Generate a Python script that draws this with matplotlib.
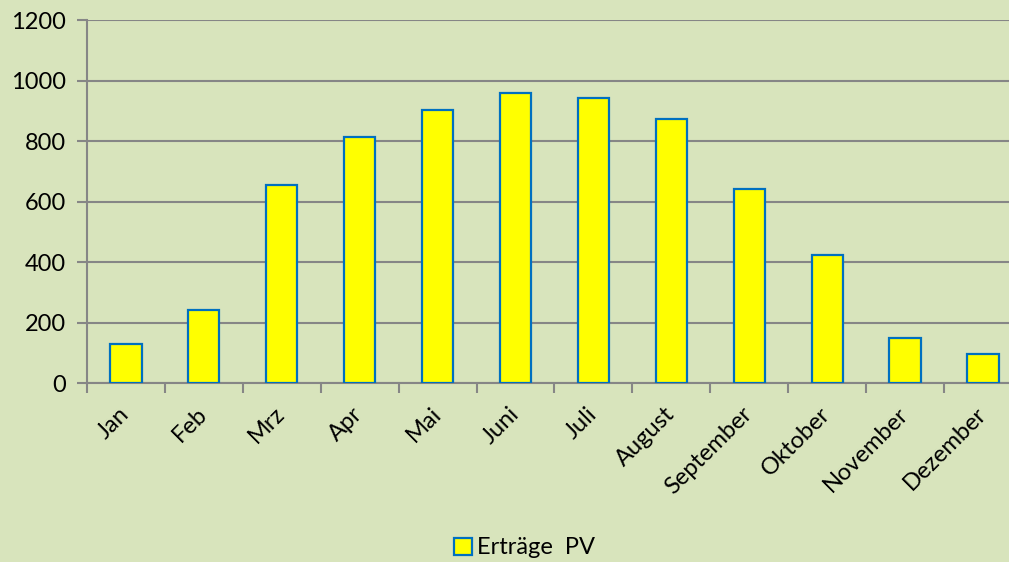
import numpy as np
import matplotlib.pyplot as plt

# Monatliche Erträge der PV-Anlage
monate = ['Jan', 'Feb', 'Mrz', 'Apr', 'Mai', 'Juni', 'Juli', 'August',
          'September', 'Oktober', 'November', 'Dezember']
ertraege = [128, 242, 656, 814, 902, 958, 941, 872, 641, 422, 148, 96]
y_ticks = [0, 200, 400, 600, 800, 1000, 1200]

bg = '#d8e4bc'
grau = '#868686'

plt.rcParams['font.family'] = ['Lato', 'DejaVu Sans']

fig = plt.figure(figsize=(10.09, 5.62), dpi=100, facecolor=bg)
# Plotbereich ragt rechts etwas über den Bildrand hinaus (wie im Original)
ax = fig.add_axes([0.0862, 0.3185, 0.9266, 0.6459], facecolor=bg)

pos = np.arange(len(monate))
ax.bar(pos, ertraege, width=0.4, color='#ffff00', edgecolor='#0070c0',
       linewidth=1.6, label='Erträge  PV', zorder=3)

ax.set_xlim(-0.5, len(monate) - 0.5)
ax.set_ylim(0, 1200)
ax.set_yticks(y_ticks)
ax.tick_params(axis='y', labelsize=17, length=7, color=grau, width=1.5, pad=8)
ax.yaxis.grid(True, color=grau, linewidth=1.5, zorder=0)

# x-Achse: Striche zwischen den Kategorien, Beschriftung in der Mitte
ax.set_xticks(np.arange(len(monate) + 1) - 0.5)
ax.set_xticklabels([])
ax.set_xticks(pos, minor=True)
ax.set_xticklabels(monate, minor=True, rotation=45, ha='right', va='center',
                   rotation_mode='anchor', fontsize=17)
ax.tick_params(axis='x', which='major', length=7, color=grau, width=1.5)
ax.tick_params(axis='x', which='minor', length=0, pad=20)

for s in ['top', 'right']:
    ax.spines[s].set_visible(False)
for s in ['left', 'bottom']:
    ax.spines[s].set_color(grau)
    ax.spines[s].set_linewidth(1.5)

fig.legend(loc='center', bbox_to_anchor=(0.52, 0.025), frameon=False,
           fontsize=17, handlelength=0.75, handleheight=0.75, handletextpad=0.25)

fig.savefig('out.png', dpi=100, facecolor=bg)
